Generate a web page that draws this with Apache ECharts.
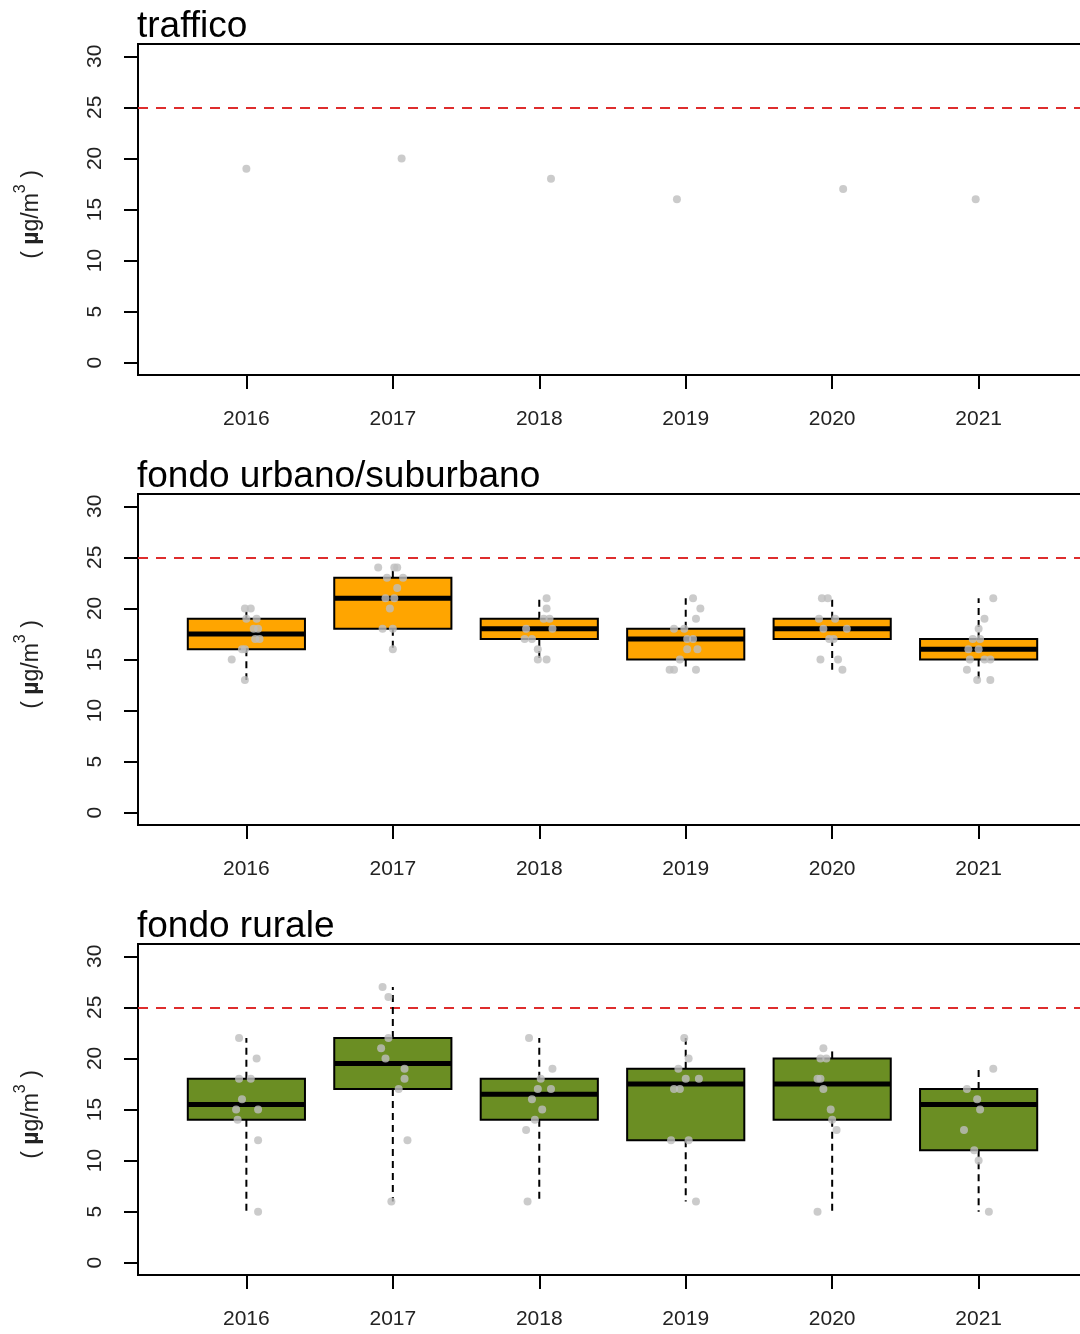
<!DOCTYPE html>
<html><head><meta charset="utf-8">
<script src="https://cdn.jsdelivr.net/npm/echarts@6/dist/echarts.min.js"></script>
<style>html,body{margin:0;padding:0;background:#fff}#c{width:1080px;height:1334px}</style>
</head><body><div id="c"></div>
<script>
// ---------- data ----------
const years = ['2016', '2017', '2018', '2019', '2020', '2021'];
const yTicks = [0, 5, 10, 15, 20, 25, 30];
const xTicks = [1, 2, 3, 4, 5, 6];
const limitValue = 25;
const panelTitles = ['traffico', 'fondo urbano/suburbano', 'fondo rurale'];
const unitLabel = ['( ', 'µ', 'g/m', '3', ' )'];

// traffico: one station per year
const trafficValues = [[19], [20], [18], [16], [17], [16]];
const trafficJitter = [[0], [0.06], [0.08], [-0.06], [0.075], [-0.02]];

// box stats: [lower whisker, Q1, median, Q3, upper whisker]
const urbanBoxes = [
  [13, 16, 17.5, 19, 20],
  [16, 18, 21, 23, 24],
  [15, 17, 18, 19, 21],
  [14, 15, 17, 18, 21],
  [14, 17, 18, 19, 21],
  [13, 15, 16, 17, 21]
];
const urbanValues = [
  [20, 20, 19, 19, 18, 18, 17, 17, 16, 16, 15, 13],
  [24, 24, 24, 23, 23, 22, 21, 21, 20, 18, 18, 16],
  [21, 20, 19, 19, 18, 18, 17, 17, 16, 15, 15],
  [21, 20, 19, 18, 18, 17, 17, 16, 16, 15, 14, 14, 14],
  [21, 21, 19, 19, 18, 18, 17, 17, 15, 15, 14],
  [21, 19, 18, 17, 17, 16, 16, 15, 15, 15, 14, 13, 13]
];
const urbanJitter = [
  [-0.01, 0.03, 0.0, 0.07, 0.05, 0.08, 0.06, 0.09, -0.03, -0.01, -0.1, -0.01],
  [-0.1, 0.01, 0.03, -0.04, 0.07, 0.03, -0.05, 0.01, -0.02, -0.07, 0.0, 0.0],
  [0.05, 0.05, 0.03, 0.07, -0.09, 0.09, -0.1, -0.05, -0.01, -0.01, 0.05],
  [0.05, 0.1, 0.07, -0.08, -0.01, 0.01, 0.05, 0.01, 0.08, -0.04, -0.11, -0.08, 0.07],
  [-0.07, -0.03, -0.09, 0.02, -0.06, 0.1, -0.02, 0.01, -0.08, 0.04, 0.07],
  [0.1, 0.04, 0.0, -0.04, 0.01, -0.07, 0.0, -0.06, 0.04, 0.08, -0.08, -0.01, 0.08]
];

const ruralBoxes = [
  [5, 14, 15.5, 18, 22],
  [6, 17, 19.5, 22, 27],
  [6, 14, 16.5, 18, 22],
  [6, 12, 17.5, 19, 22],
  [5, 14, 17.5, 20, 21],
  [5, 11, 15.5, 17, 19]
];
const ruralValues = [
  [22, 20, 18, 18, 16, 15, 15, 14, 12, 5],
  [27, 26, 22, 21, 20, 19, 18, 17, 12, 6],
  [22, 19, 18, 17, 17, 16, 15, 14, 13, 6],
  [22, 20, 19, 18, 18, 17, 17, 12, 12, 6],
  [21, 20, 20, 18, 18, 17, 15, 14, 13, 5],
  [19, 17, 16, 15, 13, 11, 10, 5]
];
const ruralJitter = [
  [-0.05, 0.07, -0.05, 0.03, -0.03, -0.07, 0.08, -0.06, 0.08, 0.08],
  [-0.07, -0.03, -0.03, -0.08, -0.05, 0.08, 0.08, 0.04, 0.1, -0.01],
  [-0.07, 0.09, 0.01, -0.01, 0.08, -0.05, 0.02, -0.03, -0.09, -0.08],
  [-0.01, 0.02, -0.05, 0.0, 0.09, -0.08, -0.04, -0.1, 0.02, 0.07],
  [-0.06, -0.08, -0.04, -0.1, -0.08, -0.06, -0.01, 0.0, 0.03, -0.1],
  [0.1, -0.08, -0.01, 0.01, -0.1, -0.03, 0.0, 0.07]
];

// ---------- styling ----------
const FONT = 'Liberation Sans, Arial, Helvetica, sans-serif';
const gridTops = [44, 494, 944];
const boxHalf = 0.4;
const pointColor = '#BEBEBE';

function pointsData(values, jitter) {
  const out = [];
  values.forEach((arr, i) => arr.forEach((v, j) => out.push([xTicks[i] + jitter[i][j], v])));
  return out;
}
function boxData(boxes) {
  return boxes.map((b, i) => [xTicks[i]].concat(b));
}
function boxRenderer(color) {
  return function (params, api) {
    const x = api.value(0);
    const lo = api.value(1), q1 = api.value(2), med = api.value(3), q3 = api.value(4), hi = api.value(5);
    const tl = api.coord([x - boxHalf, q3]);
    const br = api.coord([x + boxHalf, q1]);
    const cHi = api.coord([x, hi]), cQ3 = api.coord([x, q3]);
    const cQ1 = api.coord([x, q1]), cLo = api.coord([x, lo]);
    const mL = api.coord([x - boxHalf, med]), mR = api.coord([x + boxHalf, med]);
    const dash = { stroke: '#000', lineWidth: 2, lineDash: [7, 5] };
    return {
      type: 'group',
      children: [
        { type: 'line', shape: { x1: cQ3[0], y1: cQ3[1], x2: cHi[0], y2: cHi[1] }, style: dash },
        { type: 'line', shape: { x1: cQ1[0], y1: cQ1[1], x2: cLo[0], y2: cLo[1] }, style: dash },
        { type: 'rect', shape: { x: tl[0], y: tl[1], width: br[0] - tl[0], height: br[1] - tl[1] },
          style: { fill: color, stroke: '#000', lineWidth: 2 } },
        { type: 'line', shape: { x1: mL[0], y1: mL[1], x2: mR[0], y2: mR[1] },
          style: { stroke: '#000', lineWidth: 5 } }
      ]
    };
  };
}

const grids = [], xAxes = [], yAxes = [], titles = [], series = [];
gridTops.forEach((top, i) => {
  grids.push({ left: 138, top: top, width: 949, height: 331, show: true,
    borderColor: '#000', borderWidth: 2, backgroundColor: 'transparent', outerBoundsMode: 'none' });
  titles.push({ text: panelTitles[i], left: 137, top: top - 36, padding: 0,
    textStyle: { fontFamily: FONT, fontSize: 37, fontWeight: 'normal', color: '#000' } });
  xAxes.push({
    gridIndex: i, type: 'value', min: 0.26, max: 6.74,
    splitLine: { show: false },
    axisLine: { show: true, onZero: false, lineStyle: { color: '#000', width: 2 } },
    axisTick: { show: true, customValues: xTicks, length: 14, lineStyle: { color: '#000', width: 2 } },
    axisLabel: { customValues: xTicks, formatter: v => years[Math.round(v) - 1], margin: 34,
      fontFamily: FONT, fontSize: 21, color: '#222' }
  });
  yAxes.push({
    gridIndex: i, type: 'value', min: -1.2, max: 31.2,
    splitLine: { show: false },
    axisLine: { show: true, onZero: false, lineStyle: { color: '#000', width: 2 } },
    axisTick: { show: true, customValues: yTicks, length: 14, lineStyle: { color: '#000', width: 2 } },
    axisLabel: { customValues: yTicks, rotate: 90, margin: 32, fontFamily: FONT, fontSize: 21, color: '#222' },
    name: '{a|' + unitLabel[0] + '}{b|' + unitLabel[1] + '}{a|' + unitLabel[2] + '}{s|' + unitLabel[3] + '}{a|' + unitLabel[4] + '}',
    nameLocation: 'middle', nameRotate: 90, nameGap: 95,
    nameTextStyle: {
      padding: [0, 10, 0, 0],
      rich: {
        a: { fontFamily: FONT, fontSize: 23, color: '#222', lineHeight: 30, verticalAlign: 'bottom' },
        b: { fontFamily: FONT, fontSize: 23, fontWeight: 'bold', color: '#222', lineHeight: 30, verticalAlign: 'bottom' },
        s: { fontFamily: FONT, fontSize: 16, color: '#222', lineHeight: 30, verticalAlign: 'top' }
      }
    }
  });
});

const markLineCfg = {
  silent: true, symbol: 'none', label: { show: false },
  lineStyle: { color: '#de2d2d', type: [10, 8], width: 2 },
  data: [{ yAxis: limitValue }]
};

// panel 1: traffico (points only)
series.push({ type: 'scatter', xAxisIndex: 0, yAxisIndex: 0, z: 10, symbolSize: 8,
  itemStyle: { color: pointColor }, data: pointsData(trafficValues, trafficJitter), markLine: markLineCfg });

// panel 2: urban
series.push({ type: 'custom', xAxisIndex: 1, yAxisIndex: 1, z: 5, renderItem: boxRenderer('#FFA500'),
  encode: { x: 0, y: [1, 2, 3, 4, 5] }, data: boxData(urbanBoxes) });
series.push({ type: 'scatter', xAxisIndex: 1, yAxisIndex: 1, z: 10, symbolSize: 8,
  itemStyle: { color: pointColor }, data: pointsData(urbanValues, urbanJitter), markLine: markLineCfg });

// panel 3: rural
series.push({ type: 'custom', xAxisIndex: 2, yAxisIndex: 2, z: 5, renderItem: boxRenderer('#6B8E23'),
  encode: { x: 0, y: [1, 2, 3, 4, 5] }, data: boxData(ruralBoxes) });
series.push({ type: 'scatter', xAxisIndex: 2, yAxisIndex: 2, z: 10, symbolSize: 8,
  itemStyle: { color: pointColor }, data: pointsData(ruralValues, ruralJitter), markLine: markLineCfg });

const chart = echarts.init(document.getElementById('c'), null, { renderer: 'canvas' });
chart.setOption({
  animation: false,
  backgroundColor: '#fff',
  title: titles,
  grid: grids,
  xAxis: xAxes,
  yAxis: yAxes,
  series: series
});
</script>
</body></html>
